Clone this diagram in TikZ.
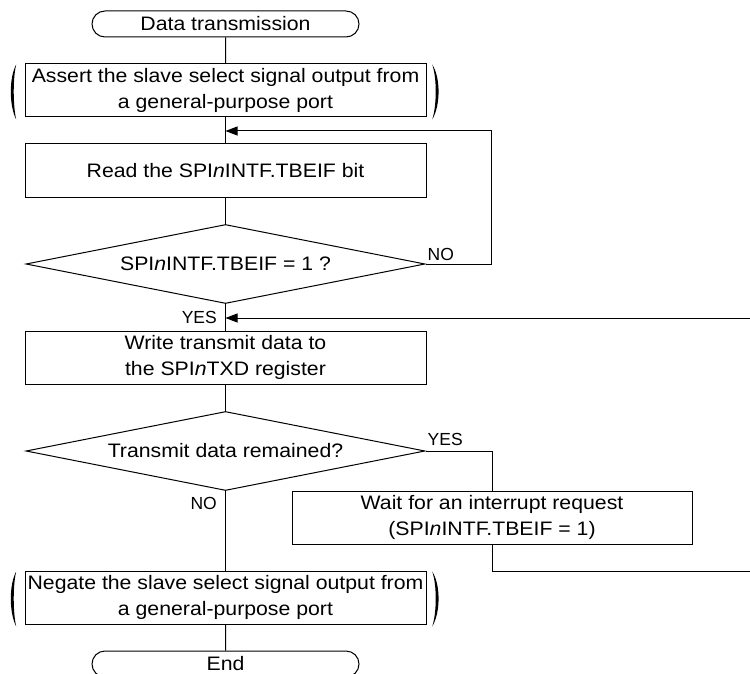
\documentclass[tikz,border=0pt]{standalone}
\usepackage{fontspec}
\setmainfont{Liberation Sans}[FakeStretch=1.09]
\newfontfamily\flowlabelfont{Liberation Sans}
\usetikzlibrary{arrows.meta, positioning, calc, shapes.geometric, shapes.misc}
\tikzset{
    flowterm/.style={rounded rectangle, draw, line width=1pt, minimum width=267pt, minimum height=26pt, inner sep=0pt},
    flowbox/.style={rectangle, draw, line width=1pt, minimum width=401pt, minimum height=53pt, inner sep=0pt, align=center},
    flowdecision/.style={diamond, aspect=5.05, draw, line width=1pt, minimum width=399pt, minimum height=79pt, inner sep=0pt},
    flowline/.style={line width=1pt},
    flowarrow/.style={-{Triangle[length=12pt,width=9pt]}, line width=1pt},
    flowlabel/.style={inner sep=2pt, font=\flowlabelfont\fontsize{17.5}{20}\selectfont},
    flowparen/.style={fill=black}
}
\begin{document}
\begin{tikzpicture}[x=1pt, y=-1pt, every node/.append style={font=\fontsize{19.5}{26}\selectfont}]
    \useasboundingbox (0,0) rectangle (750,674);
    \node[flowterm] (start) at (225.5,24) {Data transmission};
    \node[flowbox] (assert) at (225.5,90.5) {Assert the slave select signal output from\\a general-purpose port};
    \node[flowbox] (read) at (225.5,170.5) {Read the SPI\textit{n}INTF.TBEIF bit};
    \node[flowdecision] (check) at (225.5,264) {SPI\textit{n}INTF.TBEIF = 1 ?};
    \node[flowbox] (write) at (225.5,357.5) {Write transmit data to\\the SPI\textit{n}TXD register};
    \node[flowdecision] (remain) at (225.5,451) {Transmit data remained?};
    \node[flowbox, minimum width=400pt] (wait) at (492,517.5) {Wait for an interrupt request\\(SPI\textit{n}INTF.TBEIF = 1)};
    \node[flowbox] (negate) at (225.5,597.5) {Negate the slave select signal output from\\a general-purpose port};
    \node[flowterm] (end) at (225.5,664) {End};

    \coordinate (retry) at (491,131);
    \coordinate (join1) at (225.5,131);
    \coordinate (back) at (751,571);
    \coordinate (backtop) at (751,318);
    \coordinate (join2) at (225.5,318);

    % Main flow
    \draw[flowline] (start) -- (assert);
    \draw[flowline] (assert) -- (read);
    \draw[flowline] (read) -- (check);
    \draw[flowline] (check) -- (write);
    \draw[flowline] (write) -- (remain);
    \draw[flowline] (remain) -- (negate);
    \draw[flowline] (negate) -- (end);
    \draw[flowline] (remain.east) -| (wait.north);

    % Loops back
    \draw[flowarrow] (check.east) -| (retry) -- (join1);
    \draw[flowarrow] (wait.south) |- (back) -- (backtop) -- (join2);

    % Branch labels
    \node[flowlabel, anchor=base west] (nocheck) at ([yshift=4pt]check.east) {NO};
    \node[flowlabel, anchor=base east] (yescheck) at (219,323) {YES};
    \node[flowlabel, anchor=base west] (yesremain) at ([yshift=6pt]remain.east) {YES};
    \node[flowlabel, anchor=base east] (noremain) at (219,509) {NO};

    % Brackets round the port steps
    \foreach \stepname in {assert, negate} {
        \fill[flowparen] ([xshift=-8.3pt,yshift=-1pt]\stepname.north west)
            .. controls ([xshift=-15.5pt,yshift=-14pt]\stepname.north west) and ([xshift=-15.5pt,yshift=12pt]\stepname.south west)
            .. ([xshift=-8.3pt,yshift=-2pt]\stepname.south west)
            .. controls ([xshift=-11.6pt,yshift=12pt]\stepname.south west) and ([xshift=-11.6pt,yshift=-14pt]\stepname.north west)
            .. cycle;
        \fill[flowparen] ([xshift=5.7pt,yshift=-1pt]\stepname.north east)
            .. controls ([xshift=14.2pt,yshift=-14pt]\stepname.north east) and ([xshift=14.2pt,yshift=12pt]\stepname.south east)
            .. ([xshift=5.7pt,yshift=-2pt]\stepname.south east)
            .. controls ([xshift=10.4pt,yshift=12pt]\stepname.south east) and ([xshift=10.4pt,yshift=-14pt]\stepname.north east)
            .. cycle;
    }
\end{tikzpicture}
\end{document}
